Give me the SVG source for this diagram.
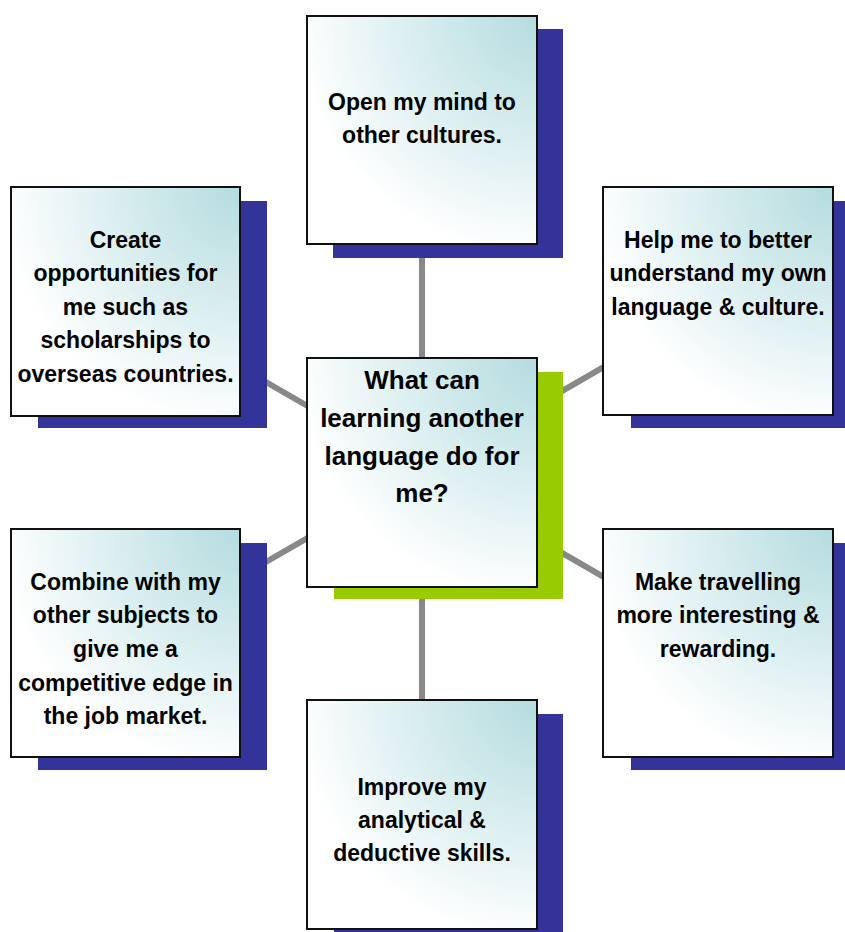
<svg xmlns="http://www.w3.org/2000/svg" width="845" height="932" viewBox="0 0 845 932">
<style>
.conn{stroke:#888888;stroke-width:6;fill:none}
.box{fill:url(#g);stroke:#111111;stroke-width:2}
.sh{fill:#333399}
.shg{fill:#99cc00}
text{font-family:"Liberation Sans",Arial,sans-serif;font-weight:bold;fill:#000;text-anchor:middle}
.t{font-size:23px}
.tc{font-size:26px}
</style>
<defs>
<radialGradient id="g" cx="1" cy="0" r="1.05">
<stop offset="0" stop-color="#b5dcdf"/>
<stop offset="0.35" stop-color="#cde8ea"/>
<stop offset="1" stop-color="#ffffff"/>
</radialGradient>
</defs>
<rect width="845" height="932" fill="#ffffff"/>
<g id="connectors">
<line class="conn" x1="422" y1="130" x2="422" y2="472"/>
<line class="conn" x1="422" y1="472" x2="422" y2="814"/>
<line class="conn" x1="125.5" y1="301" x2="422" y2="472"/>
<line class="conn" x1="718" y1="301" x2="422" y2="472"/>
<line class="conn" x1="125.5" y1="643" x2="422" y2="472"/>
<line class="conn" x1="718" y1="643" x2="422" y2="472"/>
</g>
<g id="center">
<rect class="shg" x="334" y="372" width="229" height="227"/>
<rect class="box" x="307" y="358" width="230" height="229"/>
<text class="tc" x="422" y="389">What can</text>
<text class="tc" x="422" y="427">learning another</text>
<text class="tc" x="422" y="465">language do for</text>
<text class="tc" x="422" y="502">me?</text>
</g>
<g id="top">
<rect class="sh" x="333" y="29" width="230" height="229"/>
<rect class="box" x="307" y="16" width="230" height="228"/>
<text class="t" x="422" y="110">Open my mind to</text>
<text class="t" x="422" y="143">other cultures.</text>
</g>
<g id="upper-left">
<rect class="sh" x="38" y="201" width="229" height="227"/>
<rect class="box" x="11" y="187" width="229" height="229"/>
<text class="t" x="125.5" y="248">Create</text>
<text class="t" x="125.5" y="281">opportunities for</text>
<text class="t" x="125.5" y="315">me such as</text>
<text class="t" x="125.5" y="348">scholarships to</text>
<text class="t" x="125.5" y="382">overseas countries.</text>
</g>
<g id="upper-right">
<rect class="sh" x="631" y="201" width="229" height="227"/>
<rect class="box" x="603" y="187" width="230" height="228"/>
<text class="t" x="718" y="248">Help me to better</text>
<text class="t" x="718" y="281">understand my own</text>
<text class="t" x="718" y="315">language &amp; culture.</text>
</g>
<g id="lower-left">
<rect class="sh" x="38" y="543" width="229" height="227"/>
<rect class="box" x="11" y="529" width="229" height="228"/>
<text class="t" x="125.5" y="590">Combine with my</text>
<text class="t" x="125.5" y="623">other subjects to</text>
<text class="t" x="125.5" y="657">give me a</text>
<text class="t" x="125.5" y="691">competitive edge in</text>
<text class="t" x="125.5" y="724">the job market.</text>
</g>
<g id="lower-right">
<rect class="sh" x="631" y="543" width="229" height="227"/>
<rect class="box" x="603" y="529" width="230" height="228"/>
<text class="t" x="718" y="590">Make travelling</text>
<text class="t" x="718" y="623">more interesting &amp;</text>
<text class="t" x="718" y="657">rewarding.</text>
</g>
<g id="bottom">
<rect class="sh" x="334" y="714" width="229" height="229"/>
<rect class="box" x="307" y="700" width="230" height="229"/>
<text class="t" x="422" y="795">Improve my</text>
<text class="t" x="422" y="828">analytical &amp;</text>
<text class="t" x="422" y="861">deductive skills.</text>
</g>
</svg>
